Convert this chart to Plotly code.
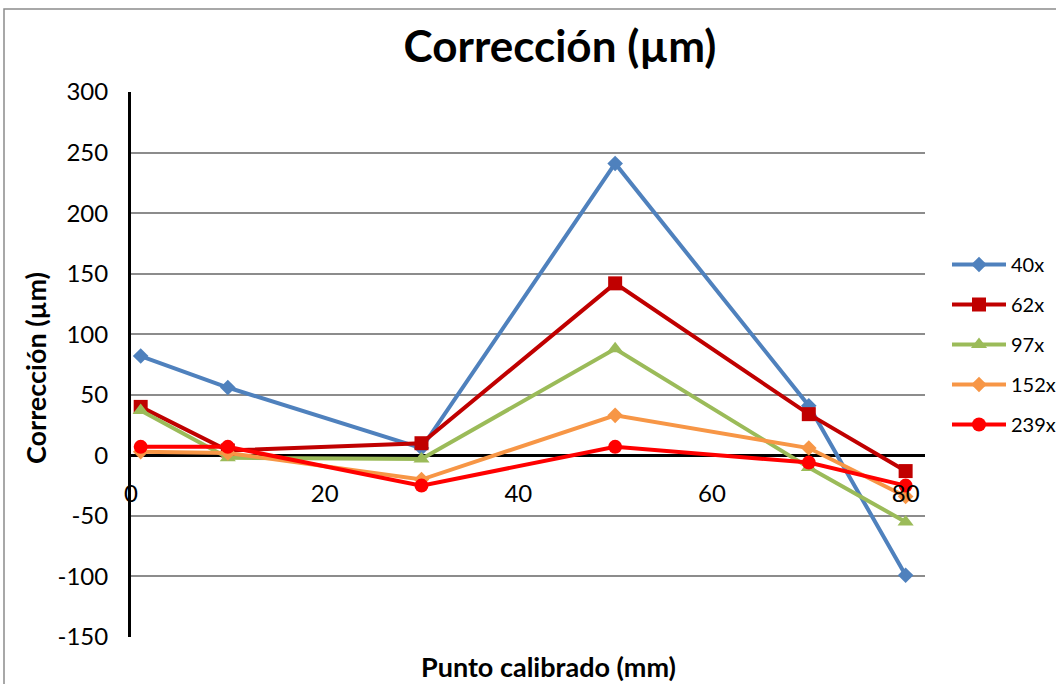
import plotly.graph_objects as go

x_vals = [1, 10, 30, 50, 70, 80]
s40 = [82, 56, 6, 241, 41, -99]
s62 = [40, 4, 10, 142, 34, -13]
s97 = [37, -2, -3, 88, -10, -55]
s152 = [3, 2, -20, 33, 6, -34]
s239 = [7, 7, -25, 7, -6, -25]

names = ["40x", "62x", "97x", "152x", "239x"]
series = [s40, s62, s97, s152, s239]
colors = ["#4F81BD", "#C00000", "#9BBB59", "#F79646", "#FF0000"]
symbols = ["diamond", "square", "triangle-up", "diamond", "circle"]
msizes = [12, 14, 14, 12, 14]

y_ticks = [-150, -100, -50, 0, 50, 100, 150, 200, 250, 300]
y_ticktext = ["-150", "-100", "-50", "0", "50", "100", "150", "200", "250", "300"]
x_ticks = [0, 20, 40, 60, 80]
x_ticktext = ["0", "20", "40", "60", "80"]

FONT = "Lato"
W, H = 1056, 684
L, R, T, B = 131, 131, 92, 47
pw = W - L - R
ph = H - T - B

fig = go.Figure()
for i, (n, s) in enumerate(zip(names, series)):
    fig.add_trace(go.Scatter(
        x=x_vals, y=s, name=n, mode="lines+markers",
        line=dict(color=colors[i], width=4),
        marker=dict(symbol=symbols[i], size=msizes[i], color=colors[i]),
        legendgroup=n, cliponaxis=False,
    ))

fig.update_layout(
    width=W, height=H,
    margin=dict(l=L, r=R, t=T, b=B, pad=0, autoexpand=False),
    paper_bgcolor="white", plot_bgcolor="white",
    font=dict(family=FONT, color="black"),
    title=dict(text="<b>Corrección (µm)</b>", x=560 / W, xref="container",
               xanchor="center", y=1 - 47 / H, yref="container", yanchor="middle",
               font=dict(size=44, family=FONT)),
    showlegend=True,
    legend=dict(x=(947 - L) / pw, xanchor="left", y=(H - B - 245) / ph, yanchor="top",
                font=dict(size=20, family=FONT), tracegroupgap=11, itemwidth=54,
                bgcolor="rgba(0,0,0,0)"),
    xaxis=dict(range=[0, 82], tickvals=x_ticks, ticktext=x_ticktext,
               showgrid=False, zeroline=False, showline=False, ticks="",
               anchor="free", position=1 / 3, ticklabelstandoff=22,
               tickfont=dict(size=24, family=FONT)),
    yaxis=dict(range=[-150, 300], tickvals=y_ticks, ticktext=y_ticktext,
               showgrid=True, gridcolor="#8C8C8C", gridwidth=1.5,
               zeroline=True, zerolinecolor="black", zerolinewidth=3,
               showline=True, linecolor="black", linewidth=3, ticks="",
               ticklabelstandoff=15,
               tickfont=dict(size=24, family=FONT)),
)

# axis titles
fig.add_annotation(text="<b>Corrección (µm)</b>", xref="paper", yref="paper",
                   x=(35 - L) / pw, y=(H - B - 368) / ph, textangle=-90, showarrow=False,
                   font=dict(size=27, family=FONT), xanchor="center", yanchor="middle")
fig.add_annotation(text="<b>Punto calibrado (mm)</b>", xref="paper", yref="paper",
                   x=(548 - L) / pw, y=(H - B - 666) / ph, showarrow=False,
                   font=dict(size=27, family=FONT), xanchor="center", yanchor="middle")

# chart area border
fig.add_shape(type="rect", xref="paper", yref="paper",
              x0=(4 - L) / pw, x1=(1070 - L) / pw, y0=(H - B - 700) / ph, y1=(H - B - 9) / ph,
              line=dict(color="#8C8C8C", width=1.5), layer="below")

fig.write_html("out.html")
